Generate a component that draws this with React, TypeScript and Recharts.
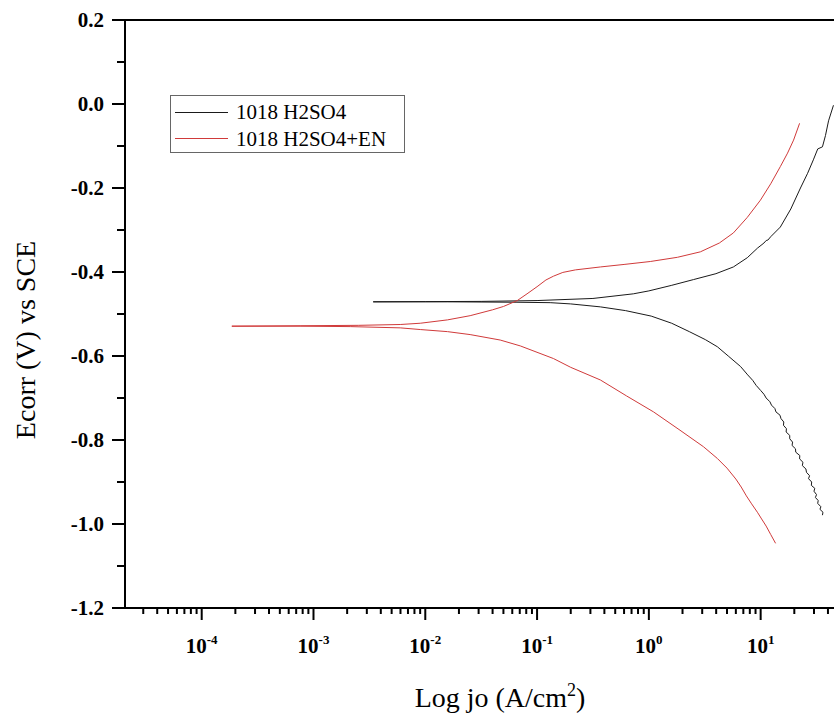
import React from 'react';
import { LineChart, Line, XAxis, YAxis, Legend, ReferenceLine } from 'recharts';

const SERIF = "'Liberation Serif', Tinos, 'Times New Roman', Times, 'DejaVu Serif', serif";

const SERIES_NAMES = ['1018 H2SO4', '1018 H2SO4+EN'];
const SERIES_COLORS = ['#1a1a1a', '#d03a3a'];

// [current density (A/cm2), E (V vs SCE)] along the measured sweep path
const BLACK_POINTS: [number, number][] = [
  [35.7, -0.979], [36.1, -0.972], [33.9, -0.965], [34.6, -0.959], [32.4, -0.951],
  [32.7, -0.944], [30.9, -0.937], [31.6, -0.93], [30.0, -0.922], [30.5, -0.915],
  [28.4, -0.908], [28.6, -0.9], [26.8, -0.892], [27.4, -0.885], [25.7, -0.877],
  [25.4, -0.869], [23.6, -0.861], [23.9, -0.853], [22.3, -0.845], [22.4, -0.837],
  [20.6, -0.829], [20.5, -0.821], [19.1, -0.813], [19.3, -0.805], [18.2, -0.797],
  [18.2, -0.789], [16.9, -0.781], [17.0, -0.773], [16.0, -0.765], [16.1, -0.757],
  [15.2, -0.749], [14.9, -0.741], [13.7, -0.733], [13.4, -0.725], [12.5, -0.717],
  [12.1, -0.709], [11.2, -0.7], [10.7, -0.691], [10.0, -0.682], [9.12, -0.67],
  [8.49, -0.658], [7.66, -0.645], [6.61, -0.625],
  [5.13, -0.6], [4.1, -0.578], [3.2, -0.561], [2.3, -0.542], [1.6, -0.522],
  [1.05, -0.505], [0.62, -0.492], [0.368, -0.483], [0.2, -0.476], [0.131, -0.473],
  [0.0661, -0.472], [0.0158, -0.471], [0.00342, -0.471],
  [0.01, -0.4705], [0.0316, -0.47], [0.1, -0.468], [0.316, -0.463], [0.726, -0.452],
  [1.0, -0.445], [1.585, -0.432], [2.512, -0.418], [3.981, -0.404], [5.7, -0.388],
  [7.59, -0.366], [9.38, -0.343], [10.7, -0.331], [11.2, -0.325], [11.6, -0.324],
  [12.3, -0.316], [15.0, -0.293], [18.6, -0.25], [22.7, -0.2], [26.3, -0.165],
  [29.6, -0.133], [32.4, -0.107], [35.7, -0.102], [38.0, -0.075], [40.5, -0.04],
  [44.8, -0.003],
];

const RED_POINTS: [number, number][] = [
  [13.6, -1.046], [12.3, -1.025], [11.2, -1.005], [10.2, -0.988], [9.35, -0.972],
  [8.3, -0.952], [7.45, -0.933], [6.7, -0.912], [6.0, -0.893], [5.0, -0.867],
  [4.1, -0.844], [3.08, -0.816], [1.86, -0.775], [1.1, -0.733], [0.631, -0.695],
  [0.368, -0.657], [0.2, -0.627], [0.14, -0.606], [0.0708, -0.576], [0.0468, -0.562],
  [0.0252, -0.549], [0.0158, -0.542], [0.00902, -0.537], [0.00597, -0.533], [0.00213, -0.53],
  [0.000759, -0.529], [0.000186, -0.529],
  [0.000759, -0.528], [0.00251, -0.527], [0.00597, -0.525], [0.00902, -0.522], [0.0158, -0.514],
  [0.0252, -0.504], [0.04, -0.49], [0.0501, -0.482], [0.0665, -0.468], [0.0813, -0.452],
  [0.1, -0.435], [0.12, -0.419], [0.14, -0.41], [0.17, -0.401], [0.22, -0.395],
  [0.368, -0.388], [0.6, -0.382], [1.03, -0.375], [1.8, -0.365], [2.89, -0.352],
  [4.27, -0.331], [5.7, -0.307], [7.59, -0.27], [9.95, -0.229], [12.3, -0.19],
  [15.0, -0.149], [17.4, -0.117], [19.7, -0.086], [22.3, -0.046],
];

const Y_TICKS = [-1.2, -1.1, -1.0, -0.9, -0.8, -0.7, -0.6, -0.5, -0.4, -0.3, -0.2, -0.1, 0.0, 0.1, 0.2];
const X_DECADES = [-5, -4, -3, -2, -1, 0, 1];
const X_MULTIPLIERS = [1, 2, 3, 4, 5, 6, 7, 8, 9];
const X_DOMAIN: [number, number] = [2.06e-5, 45.3];
const Y_DOMAIN: [number, number] = [-1.2, 0.2];

const X_TICKS: number[] = [];
X_DECADES.forEach((d) => {
  X_MULTIPLIERS.forEach((m) => {
    const v = m * Math.pow(10, d);
    if (v > X_DOMAIN[0] && v < X_DOMAIN[1]) X_TICKS.push(v);
  });
});

const toRows = (pts: [number, number][]) => pts.map(([i, e]) => ({ i, e }));
const BLACK_DATA = toRows(BLACK_POINTS);
const RED_DATA = toRows(RED_POINTS);

const txtStyle = (size: number, bold: boolean): React.CSSProperties => ({
  fontFamily: SERIF,
  fontSize: size,
  fontWeight: bold ? 'bold' : 'normal',
});

const YTick = (props: any) => {
  const { x, y, payload } = props;
  const v = payload.value as number;
  const major = Math.round(v * 10) % 2 === 0;
  return (
    <g>
      <line x1={x - (major ? 13 : 8)} x2={x} y1={y} y2={y} stroke="#000" strokeWidth={2} />
      {major && (
        <text x={x - 21} y={y} dy="0.35em" textAnchor="end" style={txtStyle(21, true)} fill="#000">
          {v.toFixed(1)}
        </text>
      )}
    </g>
  );
};

const XTick = (props: any) => {
  const { x, y, payload } = props;
  const v = payload.value as number;
  const lg = Math.log10(v);
  const major = Math.abs(lg - Math.round(lg)) < 1e-6;
  return (
    <g>
      <line x1={x} x2={x} y1={y} y2={y + (major ? 12 : 6)} stroke="#000" strokeWidth={2} />
      {major && (
        <text x={x} y={y + 45} textAnchor="middle" style={txtStyle(21, true)} fill="#000">
          <tspan>10</tspan>
          <tspan dy={-9} style={txtStyle(13, true)}>{String(Math.round(lg))}</tspan>
        </text>
      )}
    </g>
  );
};

const XTitle = () => (
  <text x={500} y={707} textAnchor="middle" style={txtStyle(28, false)} fill="#000">
    <tspan>Log jo (A/cm</tspan>
    <tspan dy={-11} style={txtStyle(18, false)}>2</tspan>
    <tspan dy={11}>)</tspan>
  </text>
);

const YTitle = () => (
  <text transform="translate(35,340) rotate(-90)" x={0} y={0} textAnchor="middle" style={txtStyle(28, false)} fill="#000">
    Ecorr (V) vs SCE
  </text>
);

const renderLegend = (props: any) => {
  const payload = props.payload || [];
  return (
    <div
      style={{
        width: 235,
        height: 58,
        border: '1px solid #666',
        boxSizing: 'border-box',
        background: '#fff',
        fontFamily: SERIF,
        fontSize: 21,
        color: '#000',
        position: 'relative',
      }}
    >
      {payload.map((p: any, k: number) => (
        <div
          key={k}
          style={{ position: 'absolute', left: 4, top: 3 + k * 26.6, height: 26, display: 'flex', alignItems: 'center', whiteSpace: 'nowrap' }}
        >
          <span style={{ display: 'inline-block', width: 53, height: 0, borderTop: `1px solid ${p.color}`, marginRight: 8 }} />
          <span style={{ lineHeight: '26px' }}>{p.value}</span>
        </div>
      ))}
    </div>
  );
};

export default function App() {
  return (
    <div style={{ position: 'fixed', left: 0, top: 0, width: 834, height: 718, background: '#fff', fontFamily: SERIF }}>
      <LineChart width={834} height={718} margin={{ top: 20, right: 0, bottom: 0, left: 0 }}>
        <XAxis
          dataKey="i"
          type="number"
          scale="log"
          domain={X_DOMAIN}
          allowDataOverflow
          ticks={X_TICKS}
          interval={0}
          height={110}
          tickSize={0}
          tickMargin={0}
          tickLine={false}
          axisLine={{ stroke: '#000', strokeWidth: 2 }}
          tick={XTick}
          label={XTitle}
        />
        <YAxis
          type="number"
          domain={Y_DOMAIN}
          allowDataOverflow
          ticks={Y_TICKS}
          interval={0}
          width={125}
          tickSize={0}
          tickMargin={0}
          tickLine={false}
          axisLine={{ stroke: '#000', strokeWidth: 2 }}
          tick={YTick}
          label={YTitle}
        />
        <ReferenceLine y={0.2} stroke="#000" strokeWidth={2} />
        <Legend
          layout="horizontal"
          verticalAlign="middle"
          align="center"
          content={renderLegend}
          wrapperStyle={{ left: 170, top: 95, width: 235, height: 58 }}
        />
        <Line
          data={BLACK_DATA}
          dataKey="e"
          name={SERIES_NAMES[0]}
          stroke={SERIES_COLORS[0]}
          strokeWidth={1}
          dot={false}
          type="linear"
          isAnimationActive={false}
        />
        <Line
          data={RED_DATA}
          dataKey="e"
          name={SERIES_NAMES[1]}
          stroke={SERIES_COLORS[1]}
          strokeWidth={1}
          dot={false}
          type="linear"
          isAnimationActive={false}
        />
      </LineChart>
    </div>
  );
}
